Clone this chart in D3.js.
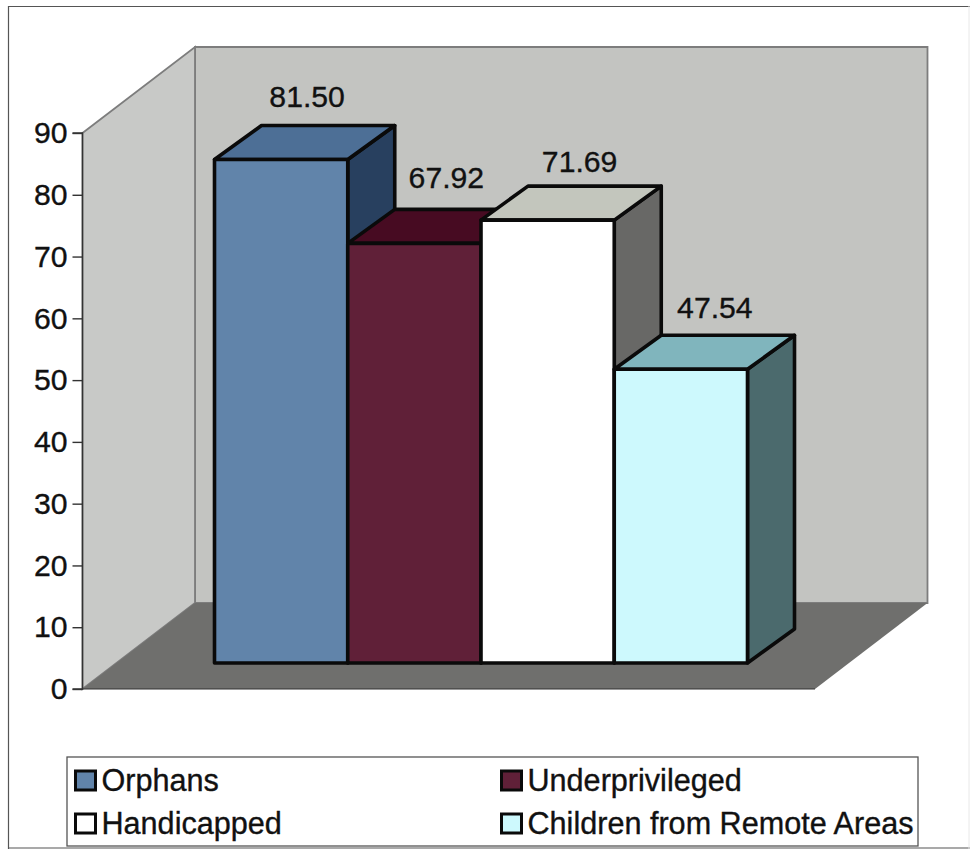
<!DOCTYPE html>
<html>
<head>
<meta charset="utf-8">
<script src="https://cdn.jsdelivr.net/npm/d3@7/dist/d3.min.js"></script>
<style>
html,body{margin:0;padding:0;background:#fff;}
svg{display:block;}
text{font-family:"Liberation Sans",Arial,sans-serif;fill:#111;stroke:#111;stroke-width:0.35px;}
</style>
</head>
<body>
<svg id="chart" width="970" height="849"></svg>
<script>
// Survey groups and their values
const categories = ["Orphans", "Underprivileged", "Handicapped", "Children from Remote Areas"];
const seriesValues = [81.50, 67.92, 71.69, 47.54];
const valueLabels = ["81.50", "67.92", "71.69", "47.54"];
const yTicks = [0, 10, 20, 30, 40, 50, 60, 70, 80, 90];

// Face colours for each column: front, top, side
const frontColors = ["#6184aa", "#602038", "#ffffff", "#cdf9fd"];
const topColors = ["#4d6f96", "#470b22", "#c3c6bd", "#80b5bd"];
const sideColors = ["#28405f", "#300a18", "#686866", "#4b6a6d"];

const svg = d3.select("#chart");
const fontSize = 30.2;
const legendFontSize = 30.6;

// Frame round the whole chart area
const frameColor = "#555";
svg.append("path").attr("d", "M8.5,849V6.5H970").attr("fill", "none").attr("stroke", frameColor).attr("stroke-width", 1.2);
svg.append("path").attr("d", "M8,848H970").attr("fill", "none").attr("stroke", frameColor).attr("stroke-width", 1.2);
svg.append("path").attr("d", "M969,6V849").attr("fill", "none").attr("stroke", "#e8e8e8").attr("stroke-width", 1);

// Oblique projection: the value scale gives heights on the front plane,
// the room depth shifts the back wall, the columns stand on a line further back on the floor.
const y = d3.scaleLinear().domain([0, 90]).range([689, 133]);
const roomLeft = 82.5, roomRight = 815;
const roomDepth = { dx: 112.5, dy: -86 };
const floorInset = -26;
const colDepth = { dx: 47, dy: -34 };

const x = d3.scaleBand().domain(categories).range([214.5, 747.5]).padding(0);

const line = d3.line();
const poly = (pts) => line(pts) + "Z";

const room = svg.append("g");
const y0 = y(0), yMax = y(90);

// Back wall
room.append("path")
  .attr("d", poly([
    [roomLeft + roomDepth.dx, yMax + roomDepth.dy],
    [roomRight + roomDepth.dx, yMax + roomDepth.dy],
    [roomRight + roomDepth.dx, y0 + roomDepth.dy],
    [roomLeft + roomDepth.dx, y0 + roomDepth.dy]
  ]))
  .attr("fill", "#c3c4c1").attr("stroke", "#7d7d7d").attr("stroke-width", 1.8);

// Side wall
room.append("path")
  .attr("d", poly([
    [roomLeft, yMax],
    [roomLeft + roomDepth.dx, yMax + roomDepth.dy],
    [roomLeft + roomDepth.dx, y0 + roomDepth.dy],
    [roomLeft, y0]
  ]))
  .attr("fill", "#c8c9c7").attr("stroke", "#7d7d7d").attr("stroke-width", 1.8);

// Floor
room.append("path")
  .attr("d", poly([
    [roomLeft, y0],
    [roomRight, y0],
    [roomRight + roomDepth.dx, y0 + roomDepth.dy],
    [roomLeft + roomDepth.dx, y0 + roomDepth.dy]
  ]))
  .attr("fill", "#6f6f6d").attr("stroke", "none");

// Value axis along the front edge of the side wall
const axis = d3.axisLeft(y).tickValues(yTicks).tickSize(10).tickPadding(5).tickFormat(d3.format("d"));
const axisG = svg.append("g").attr("transform", `translate(${roomLeft},0)`).call(axis);
axisG.selectAll("line").attr("stroke", "#333").attr("stroke-width", 1.4);
axisG.select(".domain").attr("stroke", "#333").attr("stroke-width", 1.4).attr("d", `M-10,${y0}H0V${yMax}H-10`);
axisG.selectAll("text").attr("font-size", fontSize).attr("fill", "#111")
  .style("font-family", '"Liberation Sans",Arial,sans-serif');
svg.append("line").attr("x1", roomLeft).attr("x2", roomRight).attr("y1", y0).attr("y2", y0)
  .attr("stroke", "#333").attr("stroke-width", 1.2);

// Columns, left to right so each later column overlaps its neighbour's side face
const baseY = y0 + floorInset;
const heightOf = (v) => y(0) - y(v);
const cols = svg.append("g").selectAll("g").data(categories).join("g");
cols.each(function (c, i) {
  const g = d3.select(this);
  const xl = x(c), xr = xl + x.bandwidth();
  const top = baseY - heightOf(seriesValues[i]);
  const face = (pts, fill) => g.append("path").attr("d", poly(pts)).attr("fill", fill)
    .attr("stroke", "#0a0a0a").attr("stroke-width", 3.6).attr("stroke-linejoin", "round");
  face([[xr, baseY], [xr + colDepth.dx, baseY + colDepth.dy], [xr + colDepth.dx, top + colDepth.dy], [xr, top]], sideColors[i]);
  face([[xl, top], [xl + colDepth.dx, top + colDepth.dy], [xr + colDepth.dx, top + colDepth.dy], [xr, top]], topColors[i]);
  face([[xl, baseY], [xr, baseY], [xr, top], [xl, top]], frontColors[i]);
});

// Value labels above each column, each one moved by hand clear of its neighbours
const labelShiftX = [26, 32, 32, 34];
const labelShiftY = [-53, -55, -48, -51];
svg.append("g").selectAll("text").data(categories).join("text")
  .attr("x", (c, i) => x(c) + x.bandwidth() / 2 + labelShiftX[i])
  .attr("y", (c, i) => baseY - heightOf(seriesValues[i]) + labelShiftY[i])
  .attr("text-anchor", "middle")
  .attr("font-size", fontSize)
  .text((c, i) => valueLabels[i]);

// Legend
const legend = svg.append("g");
legend.append("rect").attr("x", 67).attr("y", 757).attr("width", 851).attr("height", 89)
  .attr("fill", "#fff").attr("stroke", "#555").attr("stroke-width", 1.3);

const legendCol = d3.scaleOrdinal().domain([0, 1]).range([75, 501]);
const legendRow = d3.scaleOrdinal().domain([0, 1]).range([780.5, 823.5]);
const entries = legend.selectAll("g").data(categories).join("g")
  .attr("transform", (c, i) => `translate(${legendCol(i % 2)},${legendRow(Math.floor(i / 2))})`);
entries.append("rect").attr("x", 0.5).attr("y", -9.5).attr("width", 20).attr("height", 19)
  .attr("fill", (c, i) => frontColors[i]).attr("stroke", "#0a0a0a").attr("stroke-width", 3);
entries.append("text").attr("x", 26.5).attr("y", 10).attr("font-size", legendFontSize).text((c) => c);
</script>
</body>
</html>
